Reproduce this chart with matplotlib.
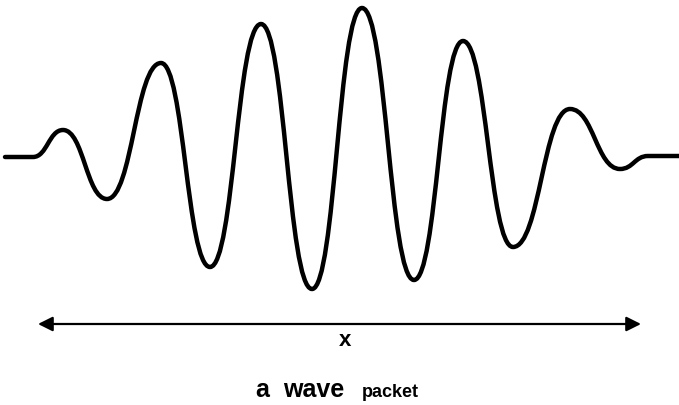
import matplotlib.pyplot as plt
from matplotlib.path import Path
from matplotlib.patches import PathPatch

plt.rcParams['font.family'] = ['Liberation Sans', 'DejaVu Sans']

# turning points of the packet (pixel coords, y down)
node_x = [5, 33, 63, 107, 161, 210, 261, 312, 362, 414, 463, 513, 570, 620, 648, 679]
node_y = [158, 158, 131, 200, 64, 268, 25, 290, 9, 281, 42, 248, 110, 170, 157, 157]

arrow_x = [38, 641]
arrow_y = 325

fig = plt.figure(figsize=(6.79, 4.06), dpi=100)
ax = fig.add_axes([0, 0, 1, 1])
ax.set_xlim(0, 679)
ax.set_ylim(406, 0)
ax.axis('off')

# smooth curve: cubic pieces with flat tangents at each turning point
k = 0.47
verts = [(node_x[0], node_y[0])]
codes = [Path.MOVETO]
for i in range(1, len(node_x)):
    x0, y0 = node_x[i - 1], node_y[i - 1]
    x1, y1 = node_x[i], node_y[i]
    dx = x1 - x0
    verts += [(x0 + k * dx, y0), (x1 - k * dx, y1), (x1, y1)]
    codes += [Path.CURVE4] * 3
ax.add_patch(PathPatch(Path(verts, codes), fill=False, lw=3.2, color='black',
                       capstyle='round', joinstyle='round'))

ax.annotate('', xy=(arrow_x[0], arrow_y), xytext=(arrow_x[1], arrow_y),
            arrowprops=dict(arrowstyle='<|-|>', lw=1.6, color='black',
                            mutation_scale=22, shrinkA=0, shrinkB=0))
ax.text(345, 341, 'x', fontsize=16, fontweight='bold', ha='center', va='center')

ax.text(262, 397, 'a', fontsize=18, fontweight='bold', ha='center', va='baseline')
ax.text(314, 397, 'wave', fontsize=18, fontweight='bold', ha='center', va='baseline')
ax.text(390, 397, 'packet', fontsize=13, fontweight='bold', ha='center', va='baseline')

fig.savefig('out.png', dpi=100)
